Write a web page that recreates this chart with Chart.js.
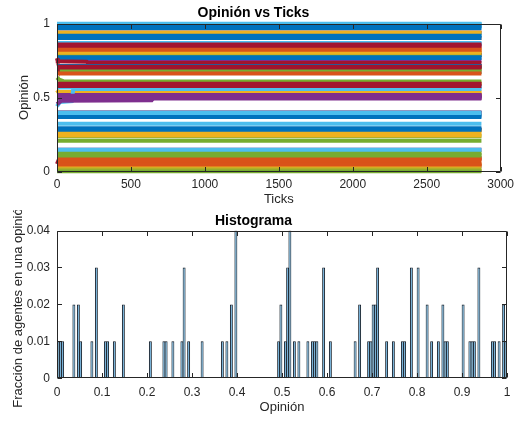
<!DOCTYPE html>
<html>
<head>
<meta charset="utf-8">
<script src="https://cdn.jsdelivr.net/npm/chart.js@4.4.1/dist/chart.umd.min.js"></script>
<style>
  html, body { margin: 0; padding: 0; background: #fff; }
  #wrap { position: relative; width: 520px; height: 421px; }
  .pane { position: absolute; left: 0; width: 520px; }
  #top { top: 0; height: 210px; }
  #bottom { top: 210px; height: 211px; }
</style>
</head>
<body>
<div id="wrap">
  <div class="pane" id="top"><canvas id="opinions" width="520" height="210"></canvas></div>
  <div class="pane" id="bottom"><canvas id="histogram" width="520" height="211"></canvas></div>
</div>
<script>
// final opinion of every agent, in agent order (agent i gets colour i mod 7)
const finalOpinion = [
  0.9925, 0.9025, 0.9375, 0.8575, 0.7025, 0.9975, 0.9375,
  0.7875, 0.8025, 0.8225, 0.7875, 0.5125, 0.9925, 0.7125,
  0.5175, 0.8025, 0.7075, 0.6725, 0.7875, 0.9725, 0.5925,
  0.3975, 0.7125, 0.5925, 0.5175, 0.6975, 0.9275, 0.4975,
  0.9825, 0.5175, 0.0475, 0.5125, 0.6925, 0.9225, 0.3975,
  0.9675, 0.3875, 0.9375, 0.3975, 0.6725, 0.8675, 0.2825,
  0.9175, 0.2825, 0.8025, 0.1475, 0.6075, 0.8625, 0.0875,
  0.9025, 0.0875, 0.5375, 0.0375, 0.2375, 0.5725, 0.8575,
  0.7725, 0.8325, 0.5275, 0.7475, 0.2075, 0.5675, 0.8475,
  0.7675, 0.8225, 0.2775, 0.5175, 0.1275, 0.5575, 0.7325,
  0.7125, 0.6625, 0.2575, 0.5125, 0.1125, 0.3975, 0.7075,
  0.3775, 0.0875, 0.2425, 0.5075, 0.1075, 0.3875, 0.7025,
  0.3675, 0.0775, 0.0375, 0.4975, 0.0125, 0.3225, 0.5925,
  0.2925, 0.0525, 0.0075, 0.4925, 0.0025, 0.1475, 0.5775,
  0.2825, 0.0475
];
const lastTick = 2870;

// agents that took a while to settle: early ticks and opinions before the final value
const settlingAgents = [80, 68, 69, 58, 48, 46];
const settlingTicks = [
  [0, 30, 640, 660],
  [0, 20, 100, 110],
  [0, 5, 200, 210],
  [0, 10, 1640, 1660],
  [0, 8, 40, 45],
  [0, 15, 40, 45]
];
const settlingOpinion = [
  [0.455, 0.478, 0.482, 0.5075],
  [0.44, 0.47, 0.475, 0.5575],
  [0.765, 0.745, 0.742, 0.7325],
  [0.55, 0.535, 0.534, 0.5275],
  [0.05, 0.07, 0.075, 0.0875],
  [0.635, 0.62, 0.612, 0.6075]
];

// histogram: bin centres (width 0.005) and fraction of agents in each
const binCenters = [
  0.0025, 0.0075, 0.0125, 0.0375, 0.0475, 0.0525, 0.0775, 0.0875,
  0.1075, 0.1125, 0.1275, 0.1475, 0.2075, 0.2375, 0.2425, 0.2575,
  0.2775, 0.2825, 0.2925, 0.3225, 0.3675, 0.3775, 0.3875, 0.3975,
  0.4925, 0.4975, 0.5075, 0.5125, 0.5175, 0.5275, 0.5375, 0.5575,
  0.5675, 0.5725, 0.5775, 0.5925, 0.6075, 0.6625, 0.6725, 0.6925,
  0.6975, 0.7025, 0.7075, 0.7125, 0.7325, 0.7475, 0.7675, 0.7725,
  0.7875, 0.8025, 0.8225, 0.8325, 0.8475, 0.8575, 0.8625, 0.8675,
  0.9025, 0.9175, 0.9225, 0.9275, 0.9375, 0.9675, 0.9725, 0.9825,
  0.9925, 0.9975
];
const fractions = [
  0.01, 0.01, 0.01, 0.02, 0.02, 0.01, 0.01, 0.03,
  0.01, 0.01, 0.01, 0.02, 0.01, 0.01, 0.01, 0.01,
  0.01, 0.03, 0.01, 0.01, 0.01, 0.01, 0.02, 0.04,
  0.01, 0.02, 0.01, 0.03, 0.04, 0.01, 0.01, 0.01,
  0.01, 0.01, 0.01, 0.03, 0.01, 0.01, 0.02, 0.01,
  0.01, 0.02, 0.02, 0.03, 0.01, 0.01, 0.01, 0.01,
  0.03, 0.03, 0.02, 0.01, 0.01, 0.02, 0.01, 0.01,
  0.02, 0.01, 0.01, 0.01, 0.03, 0.01, 0.01, 0.01,
  0.02, 0.01
];

const lineColors = ['#0072BD', '#D95319', '#EDB120', '#7E2F8E', '#77AC30', '#4DBEEE', '#A2142F'];
const axisColor = '#262626';
const family = "'Liberation Sans', Arial, Helvetica, sans-serif";
const plainNumber = (v) => String(+Number(v).toFixed(3));

// box around the axes with short inward ticks on all four sides
const matlabBox = {
  id: 'matlabBox',
  afterDatasetsDraw(chart) {
    const { ctx, chartArea: a, scales: { x, y } } = chart;
    const len = 4.5;
    const l = Math.round(a.left) + 0.5, r = Math.round(a.right) - 0.5;
    const t = Math.round(a.top) + 0.5, b = Math.round(a.bottom) - 0.5;
    ctx.save();
    ctx.strokeStyle = axisColor;
    ctx.lineWidth = 1;
    ctx.beginPath();
    ctx.rect(l, t, r - l, b - t);
    x.ticks.forEach((tk, i) => {
      const px = Math.round(x.getPixelForTick(i)) + 0.5;
      ctx.moveTo(px, b); ctx.lineTo(px, b - len);
      ctx.moveTo(px, t); ctx.lineTo(px, t + len);
    });
    y.ticks.forEach((tk, i) => {
      const py = Math.round(y.getPixelForTick(i)) + 0.5;
      ctx.moveTo(l, py); ctx.lineTo(l + len, py);
      ctx.moveTo(r, py); ctx.lineTo(r - len, py);
    });
    ctx.stroke();
    ctx.restore();
  }
};

function agentPath(i) {
  const k = settlingAgents.indexOf(i);
  const pts = [];
  if (k >= 0) {
    settlingTicks[k].forEach((t, j) => pts.push({ x: t, y: settlingOpinion[k][j] }));
  } else {
    pts.push({ x: 0, y: finalOpinion[i] });
  }
  pts.push({ x: lastTick, y: finalOpinion[i] });
  return pts;
}

const opinionSets = finalOpinion.map((v, i) => ({
  data: agentPath(i),
  borderColor: lineColors[i % 7],
  borderWidth: 4,
  pointRadius: 0,
  tension: 0,
  clip: 4,
  order: finalOpinion.length - i
}));

new Chart(document.getElementById('opinions'), {
  type: 'line',
  data: { datasets: opinionSets },
  options: {
    responsive: false,
    animation: false,
    events: [],
    layout: { padding: { left: 0, right: 13, top: 0, bottom: 0 } },
    plugins: {
      legend: { display: false },
      tooltip: { enabled: false },
      title: {
        display: true,
        text: 'Opinión vs Ticks',
        color: '#000',
        font: { family, size: 14, weight: 'bold' },
        padding: { top: 5.2, bottom: 1.5 }
      }
    },
    scales: {
      x: {
        type: 'linear',
        min: 0,
        max: 3000,
        grid: { display: false, drawTicks: false },
        border: { display: false },
        ticks: {
          stepSize: 500, padding: 6, color: axisColor, maxRotation: 0, autoSkip: false,
          font: { family, size: 12 },
          callback: plainNumber
        },
        title: { display: true, text: 'Ticks', color: axisColor, font: { family, size: 13 }, padding: { top: 0, bottom: 3.2 } },
        afterFit: (s) => { s.height = 38.5; }
      },
      y: {
        min: 0,
        max: 1,
        grid: { display: false, drawTicks: false },
        border: { display: false },
        ticks: { stepSize: 0.5, padding: 7, color: axisColor, font: { family, size: 12 }, callback: plainNumber },
        title: { display: true, text: 'Opinión', color: axisColor, font: { family, size: 13 }, padding: { top: 17, bottom: 0 } },
        afterFit: (s) => { s.width = 57; }
      }
    }
  },
  plugins: [matlabBox]
});

new Chart(document.getElementById('histogram'), {
  type: 'bar',
  data: {
    datasets: [{
      data: binCenters.map((c, i) => ({ x: c, y: fractions[i] })),
      backgroundColor: 'rgb(102, 170, 215)',
      borderColor: '#101a24',
      borderWidth: 1,
      barPercentage: 1.3,
      categoryPercentage: 1
    }]
  },
  options: {
    responsive: false,
    animation: false,
    events: [],
    layout: { padding: { left: 0, right: 13, top: 0, bottom: 0 } },
    plugins: {
      legend: { display: false },
      tooltip: { enabled: false },
      title: {
        display: true,
        text: 'Histograma',
        color: '#000',
        font: { family, size: 14, weight: 'bold' },
        padding: { top: 2.8, bottom: 0.9 }
      }
    },
    scales: {
      x: {
        type: 'linear',
        min: 0,
        max: 1,
        offset: false,
        grid: { display: false, drawTicks: false },
        border: { display: false },
        ticks: { stepSize: 0.1, padding: 7, color: axisColor, maxRotation: 0, autoSkip: false, font: { family, size: 12 }, callback: plainNumber },
        title: { display: true, text: 'Opinión', color: axisColor, font: { family, size: 13 }, padding: { top: 0, bottom: 5.7 } },
        afterFit: (s) => { s.height = 42.7; }
      },
      y: {
        min: 0,
        max: 0.04,
        grid: { display: false, drawTicks: false },
        border: { display: false },
        ticks: { stepSize: 0.01, padding: 7, color: axisColor, font: { family, size: 12 }, callback: plainNumber },
        title: { display: true, text: 'Fracción de agentes en una opinión', color: axisColor, font: { family, size: 13 }, padding: { top: 11, bottom: 0 } },
        afterFit: (s) => { s.width = 57; }
      }
    }
  },
  plugins: [matlabBox]
});
</script>
</body>
</html>
